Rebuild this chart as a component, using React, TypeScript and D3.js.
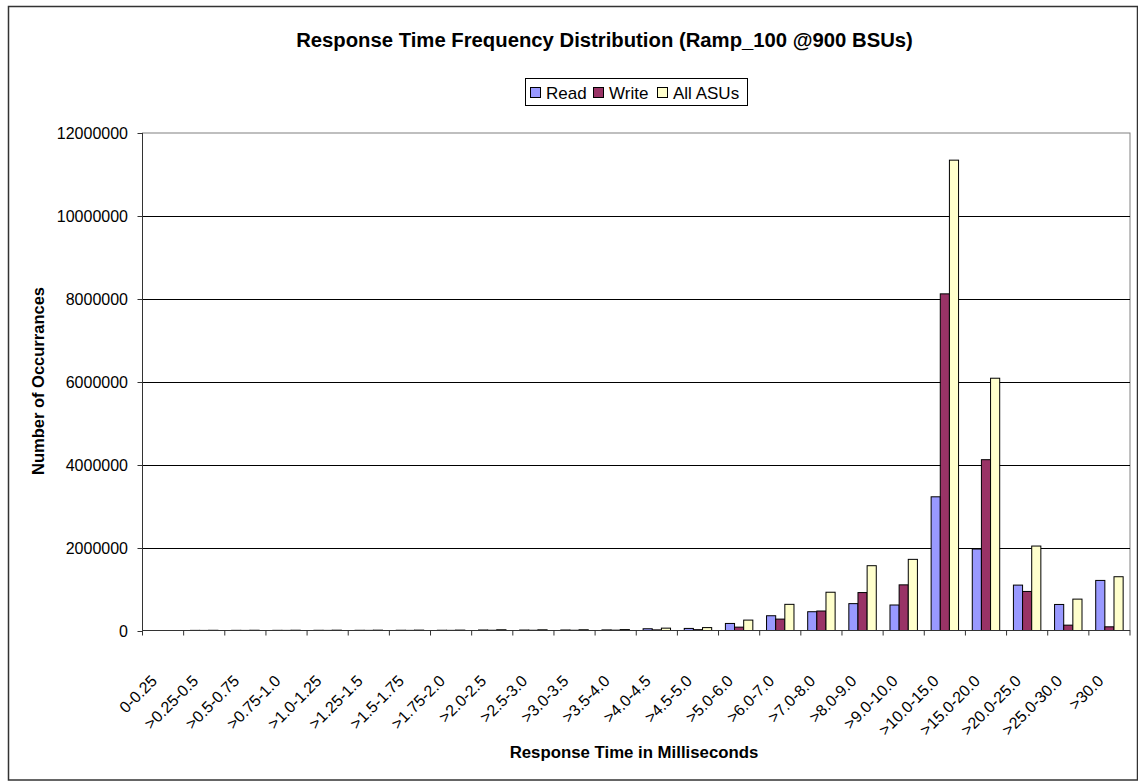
import React from 'react';
import * as d3 from 'd3';

const categories = [
  '0-0.25', '>0.25-0.5', '>0.5-0.75', '>0.75-1.0', '>1.0-1.25', '>1.25-1.5',
  '>1.5-1.75', '>1.75-2.0', '>2.0-2.5', '>2.5-3.0', '>3.0-3.5', '>3.5-4.0',
  '>4.0-4.5', '>4.5-5.0', '>5.0-6.0', '>6.0-7.0', '>7.0-8.0', '>8.0-9.0',
  '>9.0-10.0', '>10.0-15.0', '>15.0-20.0', '>20.0-25.0', '>25.0-30.0', '>30.0',
];

const readValues = [
  0, 3000, 4000, 4000, 5000, 5000, 6000, 6000, 12000, 11000, 12000, 14000,
  42000, 50000, 170000, 356000, 453000, 648000, 615000, 3225000, 1965000, 1095000, 628000, 1208000,
];
const writeValues = [
  0, 2000, 2000, 2500, 2500, 3000, 3000, 3500, 6000, 6000, 6000, 8000,
  15000, 20000, 81000, 275000, 470000, 915000, 1101000, 8120000, 4120000, 942000, 129000, 89000,
];
const allValues = [
  0, 5000, 6000, 6500, 7500, 8000, 9000, 9500, 18000, 17000, 18000, 22000,
  57000, 70000, 251000, 631000, 923000, 1563000, 1716000, 11345000, 6085000, 2037000, 757000, 1297000,
];

const seriesNames = ['Read', 'Write', 'All ASUs'];
const seriesColors = ['#9999FF', '#993366', '#FFFFCC'];
const yTicks = [0, 2000000, 4000000, 6000000, 8000000, 10000000, 12000000];

const FONT = '"Liberation Sans", Arial, sans-serif';

export default function App() {
  const W = 1138;
  const H = 782;
  const left = 142.5;
  const right = 1130;
  const top = 133;
  const bottom = 630.5;

  const x = d3.scaleBand<string>().domain(categories).range([left, right]);
  const xs = d3.scaleBand<string>().domain(seriesNames).range([0, x.step()]).paddingOuter(0.75);
  const y = d3.scaleLinear().domain([0, 12000000]).range([bottom, top]);

  const series = [readValues, writeValues, allValues];

  const boundaries = d3.range(categories.length + 1).map((i) => left + i * x.step());

  return (
    <svg width={W} height={H} style={{ position: 'absolute', left: 0, top: 0, background: '#fff' }} fontFamily={FONT}>
      <rect x={0} y={0} width={W} height={H} fill="#fff" />
      <rect x={8.5} y={6.5} width={1129} height={773.5} fill="none" stroke="#333" strokeWidth={1.5} />

      {/* title */}
      <text x={604.5} y={47} textAnchor="middle" fontSize={20.3} fontWeight="bold" fill="#000">
        Response Time Frequency Distribution (Ramp_100 @900 BSUs)
      </text>

      {/* legend */}
      <rect x={525.5} y={78.5} width={222} height={27} fill="#fff" stroke="#000" strokeWidth={1} />
      {seriesNames.map((s, i) => {
        const lx = [530.5, 593.5, 657.5][i];
        return (
          <g key={s}>
            <rect x={lx} y={87.5} width={10} height={10} fill={seriesColors[i]} stroke="#000" strokeWidth={1} />
            <text x={lx + 15.5} y={98.5} fontSize={17} fill="#000">{s}</text>
          </g>
        );
      })}

      {/* plot area */}
      <rect x={left} y={top} width={right - left} height={bottom - top} fill="#fff" stroke="#808080" strokeWidth={1} />

      {/* gridlines */}
      {yTicks.filter((t) => t > 0 && t < 12000000).map((t) => (
        <line key={t} x1={left} x2={right} y1={Math.round(y(t)) + 0.5} y2={Math.round(y(t)) + 0.5} stroke="#000" strokeWidth={1} />
      ))}

      {/* bars */}
      {series.map((vals, si) => (
        <g key={si}>
          {categories.map((c, ci) => {
            const v = vals[ci];
            if (v <= 0) return null;
            const bx = (x(c) as number) + (xs(seriesNames[si]) as number);
            const by = y(v);
            return (
              <rect
                key={c}
                x={bx}
                y={by}
                width={xs.bandwidth()}
                height={bottom - by}
                fill={seriesColors[si]}
                stroke="#000"
                strokeWidth={1}
              />
            );
          })}
        </g>
      ))}

      {/* y axis */}
      <line x1={left} x2={left} y1={top} y2={bottom} stroke="#333" strokeWidth={1} />
      {yTicks.map((t) => {
        const ty = Math.round(y(t)) + 0.5;
        return (
          <g key={t}>
            <line x1={left - 5} x2={left} y1={ty} y2={ty} stroke="#333" strokeWidth={1} />
            <text x={128} y={ty} dy="0.35em" textAnchor="end" fontSize={16} fill="#000">{t}</text>
          </g>
        );
      })}

      {/* x axis */}
      <line x1={left} x2={right} y1={bottom} y2={bottom} stroke="#333" strokeWidth={1} />
      {boundaries.map((bx, i) => (
        <line key={i} x1={bx} x2={bx} y1={bottom} y2={bottom + 5} stroke="#333" strokeWidth={1} />
      ))}
      {categories.map((c) => {
        const cx = (x(c) as number) + x.step() / 2 - 5;
        const cy = 682;
        return (
          <text key={c} transform={`translate(${cx},${cy}) rotate(-45)`} textAnchor="end" fontSize={16} fill="#000">
            {c}
          </text>
        );
      })}

      {/* axis titles */}
      <text transform={`translate(38,381) rotate(-90)`} textAnchor="middle" dy="0.35em" fontSize={16.5} fontWeight="bold" fill="#000">
        Number of Occurrances
      </text>
      <text x={634} y={758} textAnchor="middle" fontSize={16.8} fontWeight="bold" fill="#000">
        Response Time in Milliseconds
      </text>
    </svg>
  );
}
